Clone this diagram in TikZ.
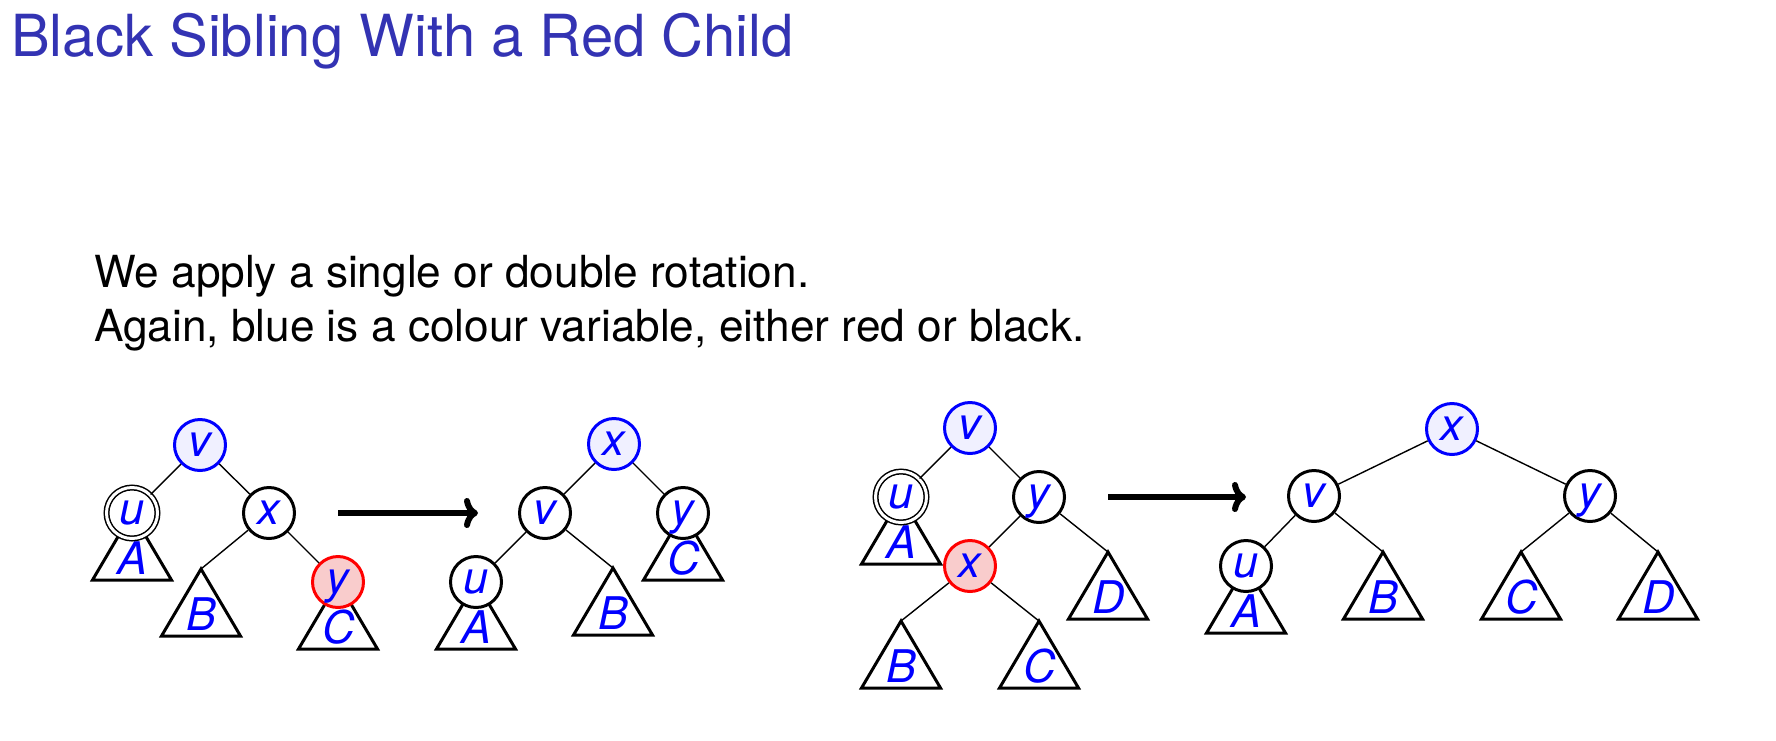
\documentclass[tikz,border=0pt]{standalone}
\usepackage{fontspec}
\setmainfont{TeX Gyre Heros}
\usetikzlibrary{arrows.meta}
\definecolor{titleblue}{RGB}{51,51,179}
\definecolor{lblue}{RGB}{0,0,255}
\definecolor{bluefill}{RGB}{240,240,255}
\definecolor{redfill}{RGB}{249,204,204}
\tikzset{
  nd/.style={circle, draw=black, line width=3pt, fill=white, minimum size=51pt, inner sep=0pt,
    text=lblue, font=\fontsize{45}{45}\selectfont\itshape, text height=23pt, text depth=0pt},
  bnd/.style={nd, draw=lblue, fill=bluefill},
  rnd/.style={nd, draw=red, fill=redfill},
  dnd/.style={nd, line width=1.5pt, double=white, double distance=3pt},
  lbl/.style={inner sep=0pt, text=lblue, font=\fontsize{45}{45}\selectfont\itshape},
  edge/.style={line width=1.4pt},
  bigarrow/.style={line width=6pt, -{To[length=14pt,width=30pt]}},
  pics/subtree/.style={code={
    \coordinate (-top) at (0,0);
    \draw[line width=3pt, line join=miter] (0,0) -- (-39.5,67) -- (39.5,67) -- cycle;
    \node[lbl, anchor=base] (-lab) at (0.5,61) {#1};
  }}
}
\begin{document}
\begin{tikzpicture}[x=1pt,y=-1pt]
\useasboundingbox (0,0) rectangle (1776,740);
% texts
\node[anchor=base west, inner sep=0pt, text=titleblue, font=\fontsize{58}{58}\selectfont] (title) at (11,56) {Black Sibling With a Red Child};
\node[anchor=base west, inner sep=0pt, font=\fontsize{44.2}{44.2}\selectfont] (line1) at (94,287) {We apply a single or double rotation.};
\node[anchor=base west, inner sep=0pt, font=\fontsize{44.2}{44.2}\selectfont] (line2) at (94,341) {Again, blue is a colour variable, either red or black.};

% ---------- tree 1 ----------
\pic (t1A) at (132,513) {subtree=A};
\pic (t1B) at (201,569) {subtree=B};
\pic (t1C) at (338,582) {subtree=C};
\node[bnd] (t1v) at (200,445) {v};
\node[dnd] (t1u) at (132,513) {u};
\node[nd]  (t1x) at (269,513) {x};
\node[rnd] (t1y) at (338,582) {y};
\draw[edge] (t1v) -- (t1u);
\draw[edge] (t1v) -- (t1x);
\draw[edge] (t1x) -- (t1B-top);
\draw[edge] (t1x) -- (t1y);

% arrow 1
\coordinate (a1s) at (338,513);
\coordinate (a1e) at (478,513);
\draw[bigarrow] (a1s) -- (a1e);

% ---------- tree 2 ----------
\pic (t2A) at (476,582) {subtree=A};
\pic (t2B) at (613,568) {subtree=B};
\pic (t2C) at (683,513) {subtree=C};
\node[bnd] (t2x) at (614,444) {x};
\node[nd]  (t2v) at (545,513) {v};
\node[nd]  (t2y) at (683,513) {y};
\node[nd]  (t2u) at (476,582) {u};
\draw[edge] (t2x) -- (t2v);
\draw[edge] (t2x) -- (t2y);
\draw[edge] (t2v) -- (t2u);
\draw[edge] (t2v) -- (t2B-top);

% ---------- tree 3 ----------
\pic (t3A) at (901,497) {subtree=A};
\pic (t3D) at (1108,552) {subtree=D};
\pic (t3B) at (901,621) {subtree=B};
\pic (t3C) at (1039,621) {subtree=C};
\node[bnd] (t3v) at (970,428) {v};
\node[dnd] (t3u) at (901,497) {u};
\node[nd]  (t3y) at (1039,497) {y};
\node[rnd] (t3x) at (970,566) {x};
\draw[edge] (t3v) -- (t3u);
\draw[edge] (t3v) -- (t3y);
\draw[edge] (t3y) -- (t3x);
\draw[edge] (t3y) -- (t3D-top);
\draw[edge] (t3x) -- (t3B-top);
\draw[edge] (t3x) -- (t3C-top);

% arrow 2
\coordinate (a2s) at (1108,497);
\coordinate (a2e) at (1246,497);
\draw[bigarrow] (a2s) -- (a2e);

% ---------- tree 4 ----------
\pic (t4A) at (1246,566) {subtree=A};
\pic (t4B) at (1383,552) {subtree=B};
\pic (t4C) at (1521,552) {subtree=C};
\pic (t4D) at (1658,552) {subtree=D};
\node[bnd] (t4x) at (1452,429) {x};
\node[nd]  (t4v) at (1314,496) {v};
\node[nd]  (t4y) at (1590,496) {y};
\node[nd]  (t4u) at (1246,566) {u};
\draw[edge] (t4x) -- (t4v);
\draw[edge] (t4x) -- (t4y);
\draw[edge] (t4v) -- (t4u);
\draw[edge] (t4v) -- (t4B-top);
\draw[edge] (t4y) -- (t4C-top);
\draw[edge] (t4y) -- (t4D-top);
\end{tikzpicture}
\end{document}
